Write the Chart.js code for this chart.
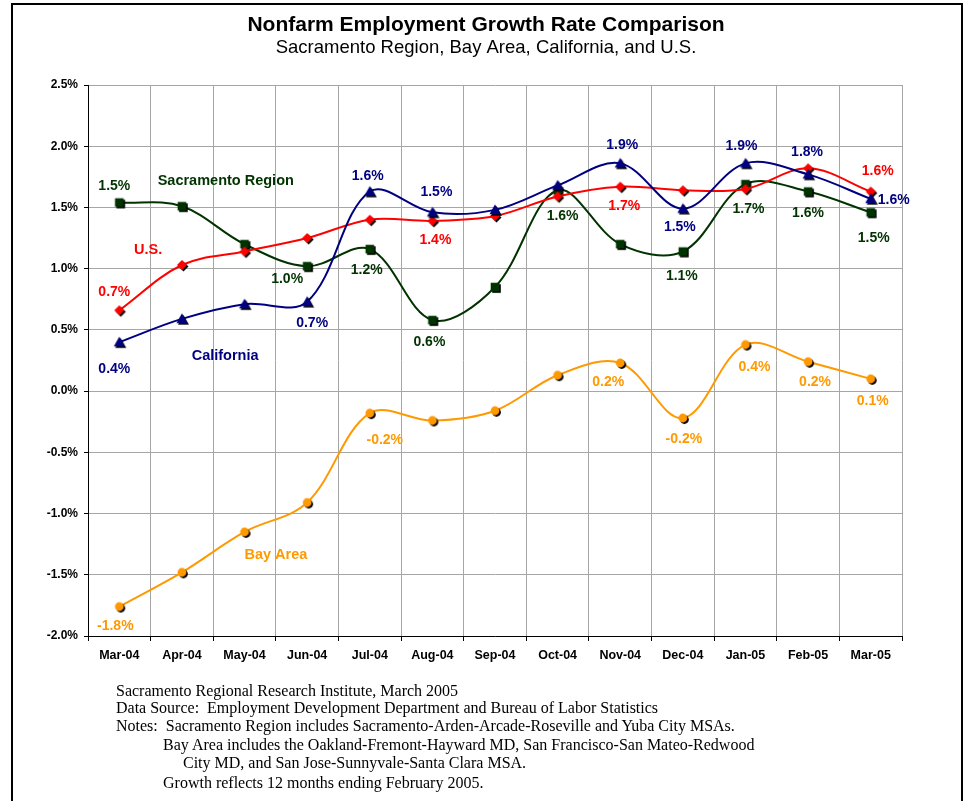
<!DOCTYPE html>
<html>
<head>
<meta charset="utf-8">
<script src="https://cdn.jsdelivr.net/npm/chart.js@4/dist/chart.umd.min.js"></script>
<style>
  body { margin: 0; background: #fff; }
  #wrap { position: relative; width: 966px; height: 801px; overflow: hidden; }
  #frame { position: absolute; left: 11px; top: 3px; width: 948px; height: 830px; border: 2px solid #000; }
  #myChart { position: absolute; left: 0; top: 0; }
  .note { position: absolute; font-family: "Liberation Serif", "Times New Roman", serif; font-size: 16px; color: #000; white-space: pre; line-height: 18px; }
</style>
</head>
<body>
<div id="wrap">
  <div id="frame"></div>
  <canvas id="myChart" width="966" height="801"></canvas>
  <div class="note" style="left:116px; top:682px;">Sacramento Regional Research Institute, March 2005</div>
  <div class="note" style="left:116px; top:699px;">Data Source:  Employment Development Department and Bureau of Labor Statistics</div>
  <div class="note" style="left:116px; top:717px;">Notes:  Sacramento Region includes Sacramento-Arden-Arcade-Roseville and Yuba City MSAs.</div>
  <div class="note" style="left:163px; top:736px;">Bay Area includes the Oakland-Fremont-Hayward MD, San Francisco-San Mateo-Redwood</div>
  <div class="note" style="left:183px; top:754px;">City MD, and San Jose-Sunnyvale-Santa Clara MSA.</div>
  <div class="note" style="left:163px; top:774px;">Growth reflects 12 months ending February 2005.</div>
</div>
<script>
//chart data
var categories = ['Mar-04', 'Apr-04', 'May-04', 'Jun-04', 'Jul-04', 'Aug-04', 'Sep-04', 'Oct-04', 'Nov-04', 'Dec-04', 'Jan-05', 'Feb-05', 'Mar-05'];
var sacramento = [1.54, 1.51, 1.20, 1.02, 1.16, 0.58, 0.85, 1.64, 1.20, 1.14, 1.69, 1.63, 1.46];
var usa        = [0.66, 1.03, 1.14, 1.25, 1.40, 1.39, 1.43, 1.59, 1.67, 1.64, 1.65, 1.82, 1.63];
var california = [0.40, 0.59, 0.71, 0.73, 1.63, 1.46, 1.48, 1.68, 1.86, 1.49, 1.86, 1.77, 1.57];
var bayArea    = [-1.76, -1.48, -1.15, -0.91, -0.18, -0.24, -0.16, 0.13, 0.23, -0.22, 0.38, 0.24, 0.10];
var yTickLabels = ['-2.0%', '-1.5%', '-1.0%', '-0.5%', '0.0%', '0.5%', '1.0%', '1.5%', '2.0%', '2.5%'];

//value labels shown next to some points ('' = none)
var sacLabels = ['1.5%', '', '', '1.0%', '1.2%', '0.6%', '', '1.6%', '', '1.1%', '1.7%', '1.6%', '1.5%'];
var usLabels  = ['0.7%', '', '', '', '', '1.4%', '', '', '1.7%', '', '', '', '1.6%'];
var caLabels  = ['0.4%', '', '', '0.7%', '1.6%', '1.5%', '', '', '1.9%', '1.5%', '1.9%', '1.8%', '1.6%'];
var bayLabels = ['-1.8%', '', '', '', '-0.2%', '', '', '', '0.2%', '-0.2%', '0.4%', '0.2%', '0.1%'];

var FONT = "'Liberation Sans', Arial, sans-serif";
var GREEN = '#003300', RED = '#ff0000', NAVY = '#000080', ORANGE = '#ff9900';

//marker images with the little black drop shadow
function marker(shape, color) {
	var c = document.createElement('canvas');
	c.width = 18; c.height = 18;
	var g = c.getContext('2d');
	var draw = function (cx, cy, fill) {
		g.fillStyle = fill;
		g.beginPath();
		if (shape == 'square') {
			g.rect(cx - 4.3, cy - 4.3, 8.6, 8.6);
		} else if (shape == 'triangle') {
			g.moveTo(cx, cy - 5.5); g.lineTo(cx + 5.5, cy + 4.3); g.lineTo(cx - 5.5, cy + 4.3); g.closePath();
		} else if (shape == 'diamond') {
			g.moveTo(cx, cy - 5); g.lineTo(cx + 5, cy); g.lineTo(cx, cy + 5); g.lineTo(cx - 5, cy); g.closePath();
		} else {
			g.arc(cx, cy, 4.4, 0, Math.PI * 2);
		}
		g.fill();
	};
	draw(10.5, 10.5, '#000');
	draw(9, 9, color);
	return c;
}

//offsets of the value labels from their point (px)
var labelOffsets = {
	sac: [[-5, -16], null, null, [-20, 13], [-3, 21], [-3, 22], null, [5, 26], null, [-1, 25], [3, 25], [0, 22], [3, 26]],
	us:  [[-5, -18], null, null, null, null, [3, 19], null, null, [4, 20], null, null, null, [7, -20]],
	ca:  [[-5, 27], null, null, [5, 21], [-2, -15], [4, -20], null, null, [2, -18], [-3, 18], [-4, -17], [-1, -22], [23, 1]],
	bay: [[-4, 20], null, null, null, [15, 27], null, null, null, [-12, 19], [1, 21], [9, 23], [7, 20], [2, 22]]
};

//series names written inside the plot (category index, value)
var seriesNames = [
	{ text: 'Sacramento Region', color: GREEN, x: 1.70, y: 1.72 },
	{ text: 'U.S.', color: RED, x: 0.46, y: 1.15 },
	{ text: 'California', color: NAVY, x: 1.69, y: 0.29 },
	{ text: 'Bay Area', color: ORANGE, x: 2.50, y: -1.34 }
];

var textPlugin = {
	id: 'texts',
	beforeDraw: function (chart) {
		var ctx = chart.ctx;
		ctx.save();
		ctx.fillStyle = '#000';
		ctx.textAlign = 'center';
		ctx.textBaseline = 'middle';
		ctx.font = 'bold 21px ' + FONT;
		ctx.fillText('Nonfarm Employment Growth Rate Comparison', 486, 25);
		ctx.font = '18.5px ' + FONT;
		ctx.fillText('Sacramento Region, Bay Area, California, and U.S.', 486, 48);
		ctx.restore();
	},
	afterDatasetsDraw: function (chart) {
		var ctx = chart.ctx;
		var xs = chart.scales.x, ys = chart.scales.y;
		ctx.save();
		ctx.textAlign = 'center';
		ctx.textBaseline = 'middle';
		ctx.font = 'bold 14px ' + FONT;
		chart.data.datasets.forEach(function (ds, i) {
			var meta = chart.getDatasetMeta(i);
			var offs = labelOffsets[ds.key];
			ctx.fillStyle = ds.borderColor;
			ds.valueLabels.forEach(function (txt, j) {
				if (!txt || !offs[j]) return;
				var pt = meta.data[j];
				ctx.fillText(txt, pt.x + offs[j][0], pt.y + offs[j][1]);
			});
		});
		ctx.font = 'bold 14.5px ' + FONT;
		seriesNames.forEach(function (n) {
			ctx.fillStyle = n.color;
			ctx.fillText(n.text, xs.getPixelForValue(n.x), ys.getPixelForValue(n.y));
		});
		ctx.restore();
	}
};

function series(label, key, data, labels, color, shape) {
	return {
		label: label,
		key: key,
		data: data,
		valueLabels: labels,
		borderColor: color,
		backgroundColor: color,
		borderWidth: 2,
		tension: 0.35,
		pointStyle: marker(shape, color),
		pointRadius: 5
	};
}

var myChart = document.getElementById('myChart').getContext('2d');
var growthChart = new Chart(myChart, {
	type: 'line',
	data: {
		labels: categories,
		datasets: [
			series('California', 'ca', california, caLabels, NAVY, 'triangle'),
			series('U.S.', 'us', usa, usLabels, RED, 'diamond'),
			series('Sacramento Region', 'sac', sacramento, sacLabels, GREEN, 'square'),
			series('Bay Area', 'bay', bayArea, bayLabels, ORANGE, 'circle')
		]
	},
	options: {
		responsive: false,
		animation: false,
		events: [],
		layout: { padding: { top: 85, left: 0, right: 64, bottom: 135 } },
		plugins: {
			legend: { display: false },
			tooltip: { enabled: false }
		},
		scales: {
			x: {
				offset: true,
				grid: { offset: true, color: '#a6a6a6', tickColor: '#000', tickLength: 5 },
				border: { color: '#000', width: 1 },
				ticks: { color: '#000', font: { family: FONT, size: 12.5, weight: 'bold' }, padding: 7, maxRotation: 0, autoSkip: false },
				afterFit: function (s) { s.height = 30; }
			},
			y: {
				min: -2,
				max: 2.5,
				grid: { color: '#a6a6a6', tickColor: '#000', tickLength: 4 },
				border: { color: '#000', width: 1 },
				ticks: {
					stepSize: 0.5,
					color: '#000',
					font: { family: FONT, size: 12, weight: 'bold' },
					padding: 6,
					callback: function (v, i) { return yTickLabels[i]; }
				},
				afterFit: function (s) { s.width = 88; }
			}
		}
	},
	plugins: [textPlugin]
});
</script>
</body>
</html>
